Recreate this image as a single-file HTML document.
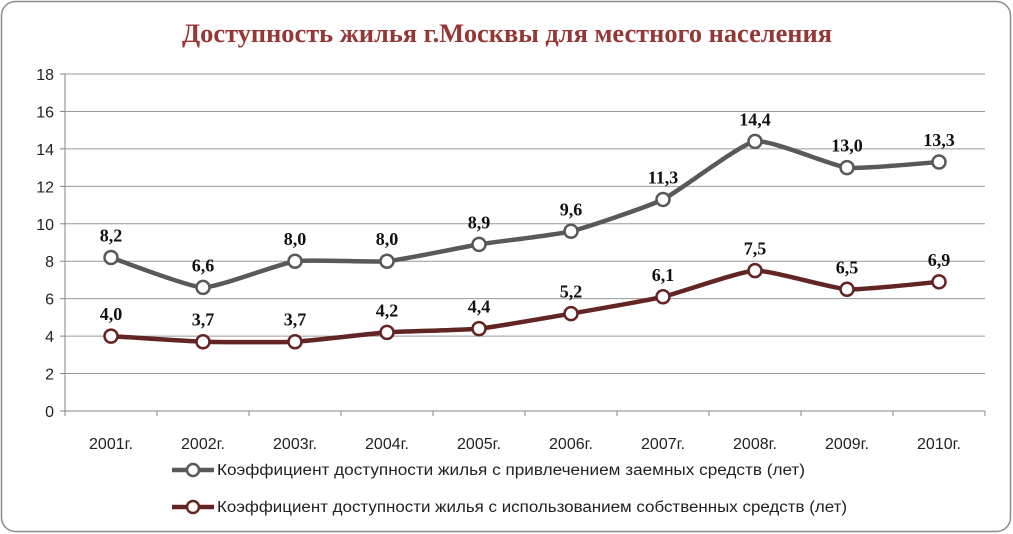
<!DOCTYPE html>
<html><head><meta charset="utf-8">
<style>
html,body{margin:0;padding:0;background:#fff;}
svg{display:block;}
</style></head>
<body>
<svg id="chart" width="1013" height="534" xmlns="http://www.w3.org/2000/svg">
<rect x="1.5" y="1.5" width="1009" height="530" rx="14" fill="#fff" stroke="#8c8c8c" stroke-width="1.5"/>
<text x="507" y="42" text-anchor="middle" font-family="Liberation Serif, serif" font-weight="bold" font-size="26" textLength="650" lengthAdjust="spacingAndGlyphs" fill="#953735">Доступность жилья г.Москвы для местного населения</text>
<g id="grid"></g><g id="axes"></g><g id="series"></g><g id="legend"></g>
</svg>
<script>
const categories=["2001г.","2002г.","2003г.","2004г.","2005г.","2006г.","2007г.","2008г.","2009г.","2010г."];
const loanValues=[8.2,6.6,8.0,8.0,8.9,9.6,11.3,14.4,13.0,13.3];
const ownValues=[4.0,3.7,3.7,4.2,4.4,5.2,6.1,7.5,6.5,6.9];
const loanLabels=["8,2","6,6","8,0","8,0","8,9","9,6","11,3","14,4","13,0","13,3"];
const ownLabels=["4,0","3,7","3,7","4,2","4,4","5,2","6,1","7,5","6,5","6,9"];
const yTicks=[0,2,4,6,8,10,12,14,16,18];
const seriesNames=["Коэффициент доступности жилья с привлечением заемных средств (лет)","Коэффициент доступности жилья с использованием собственных средств (лет)"];

const NS="http://www.w3.org/2000/svg";
const L=65,R=985,T=74,B=411,yMax=18;
const band=(R-L)/categories.length;
const xs=i=>L+band*(i+0.5);
const ys=v=>B-(v/yMax)*(B-T);
function mk(tag,attrs,parent,txt){const e=document.createElementNS(NS,tag);for(const k in attrs)e.setAttribute(k,attrs[k]);if(txt!==undefined)e.textContent=txt;parent.appendChild(e);return e;}
const grid=document.getElementById('grid'),axes=document.getElementById('axes'),ser=document.getElementById('series'),leg=document.getElementById('legend');

yTicks.forEach(t=>{
  const g=mk('line',{x1:L,x2:R,y1:ys(t),y2:ys(t),stroke:t===0?'#868686':'#9a9a9a','stroke-width':1},grid);
  
  
  mk('line',{x1:L-5,x2:L,y1:ys(t),y2:ys(t),stroke:'#868686'},axes);
  const lb=mk('text',{x:L-11,y:ys(t)+6,'text-anchor':'end','font-family':'Liberation Sans, sans-serif','font-size':16,fill:'#222'},axes,String(t));
  
  
});
const ya=mk('line',{x1:L,x2:L,y1:T,y2:B,stroke:'#868686'},axes);


for(let i=0;i<=categories.length;i++){mk('line',{x1:L+band*i,x2:L+band*i,y1:B,y2:B+5,stroke:'#868686'},axes);}
categories.forEach((c,i)=>{
  const t=mk('text',{x:xs(i),y:B+38,'text-anchor':'middle','font-family':'Liberation Sans, sans-serif','font-size':16,fill:'#222'},axes,c);
  
  
});

function smoothPath(pts){
  let d='M'+pts[0][0]+','+pts[0][1];
  for(let i=0;i<pts.length-1;i++){
    const p0=pts[i-1]||pts[i],p1=pts[i],p2=pts[i+1],p3=pts[i+2]||p2;
    const k=0.08;
    const c1=[p1[0]+(p2[0]-p0[0])*k,p1[1]+(p2[1]-p0[1])*k];
    const c2=[p2[0]-(p3[0]-p1[0])*k,p2[1]-(p3[1]-p1[1])*k];
    d+=' C'+c1+' '+c2+' '+p2;
  }
  return d;
}
function drawSeries(vals,labels,color,name){
  const g=mk('g',{},ser);
  
  
  const pts=vals.map((v,i)=>[xs(i),ys(v)]);
  const p=mk('path',{d:smoothPath(pts),fill:'none',stroke:color,'stroke-width':4.5,'stroke-linejoin':'round'},g);
  
  
  pts.forEach((pt,i)=>{
    const c=mk('circle',{cx:pt[0],cy:pt[1],r:6.5,fill:'#fff',stroke:color,'stroke-width':2.5},g);
    
    
    const t=mk('text',{x:pt[0],y:pt[1]-16,'text-anchor':'middle','font-family':'Liberation Serif, serif','font-weight':'bold','font-size':18,fill:'#111'},g,labels[i]);
    
    
  });
}
drawSeries(loanValues,loanLabels,'#595959','loan');
drawSeries(ownValues,ownLabels,'#632523','own');

[[seriesNames[0],'#595959',470,588],[seriesNames[1],'#632523',507,630]].forEach((s,i)=>{
  const g=mk('g',{},leg);
  
  
  mk('line',{x1:172,x2:214,y1:s[2],y2:s[2],stroke:s[1],'stroke-width':4.5},g);
  mk('circle',{cx:193,cy:s[2],r:6,fill:'#fff',stroke:s[1],'stroke-width':2.5},g);
  mk('text',{x:217,y:s[2]+5,'font-family':'Liberation Sans, sans-serif','font-size':15.5,textLength:s[3],lengthAdjust:'spacingAndGlyphs',fill:'#222'},g,s[0]);
});
</script>
</body></html>
